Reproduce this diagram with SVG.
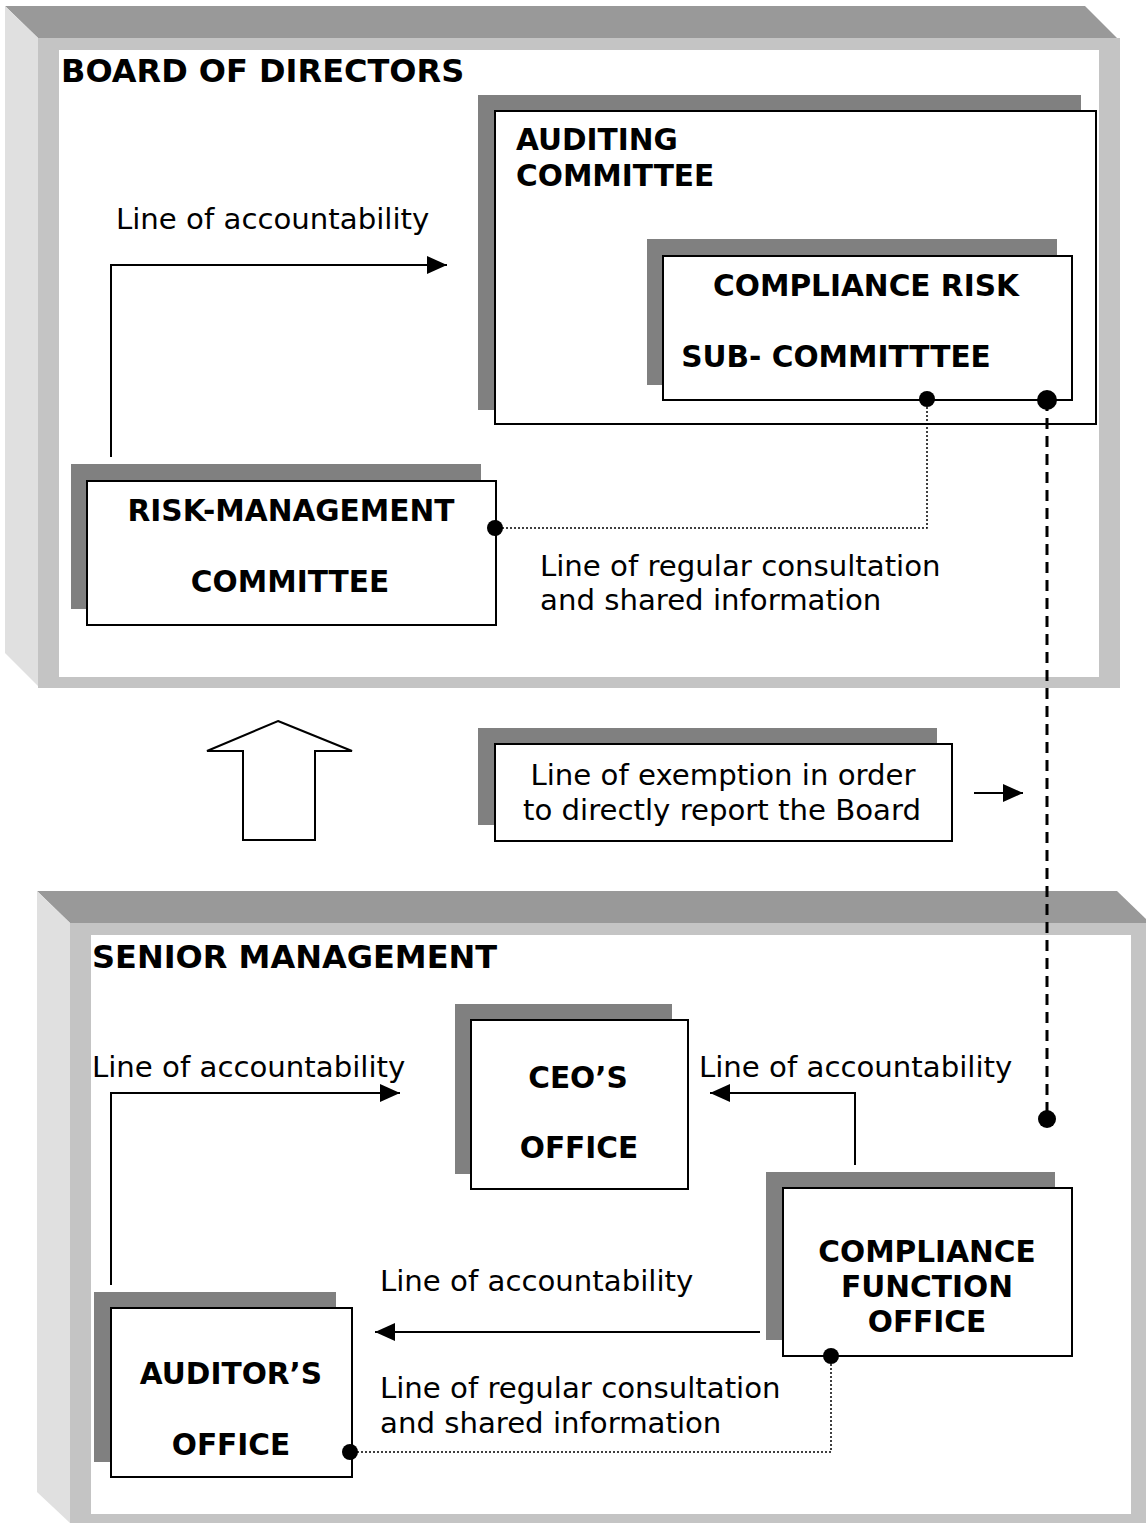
<svg xmlns="http://www.w3.org/2000/svg" width="1146" height="1523" viewBox="0 0 1146 1523">
<defs>
<style>
.bevtop{fill:#999999}
.bevleft{fill:#e0e0e0}
.frame{fill:#c4c4c4}
.inner{fill:#ffffff}
.shadow{fill:#808080}
.box{fill:#ffffff;stroke:#000000;stroke-width:2}
.title{font-family:"DejaVu Sans",Verdana,sans-serif;font-weight:bold;font-size:32px;fill:#000}
.lbl{font-family:"DejaVu Sans",Verdana,sans-serif;font-weight:bold;font-size:29.6px;fill:#000;text-anchor:middle}
.txt{font-family:"DejaVu Sans",Verdana,sans-serif;font-size:29.2px;fill:#000}
.mid{text-anchor:middle}
.line{fill:none;stroke:#000;stroke-width:2}
.dot{fill:none;stroke:#000;stroke-width:1.5;stroke-dasharray:2 2}
.dash{fill:none;stroke:#000;stroke-width:3;stroke-dasharray:11 7}
</style>
<marker id="ah" viewBox="0 0 20 18" refX="20" refY="9" markerWidth="20" markerHeight="18" markerUnits="userSpaceOnUse" orient="auto">
<path d="M0,0 L20,9 L0,18 z" fill="#000"/>
</marker>
</defs>
<rect width="1146" height="1523" fill="#ffffff"/>

<g id="board">
<rect class="frame" x="38" y="38" width="1082" height="650"/>
<polygon class="bevtop" points="5,6 1085,6 1117,38 38,38"/>
<polygon class="bevleft" points="5,6 38,38 38,686 5,653"/>
<rect class="inner" x="59" y="50" width="1040" height="627"/>
<text class="title" x="61" y="82">BOARD OF DIRECTORS</text>
</g>

<g id="senior">
<rect class="frame" x="70" y="923" width="1090" height="610"/>
<polygon class="bevtop" points="37,891 1117,891 1150,923 70,923"/>
<polygon class="bevleft" points="37,891 70,923 70,1523 37,1492"/>
<rect class="inner" x="91" y="935" width="1040" height="579"/>
<text class="title" x="92" y="968">SENIOR MANAGEMENT</text>
</g>

<g id="auditing">
<rect class="shadow" x="478" y="95" width="603" height="315"/>
<rect class="box" x="495" y="111" width="601" height="313"/>
<text class="lbl" x="516" y="150" style="text-anchor:start">AUDITING</text>
<text class="lbl" x="516" y="186" style="text-anchor:start">COMMITTEE</text>
</g>

<g id="compliance-risk">
<rect class="shadow" x="647" y="239" width="410" height="146"/>
<rect class="box" x="663" y="256" width="409" height="144"/>
<text class="lbl" x="866" y="296">COMPLIANCE RISK</text>
<text class="lbl" x="836" y="367">SUB- COMMITTTEE</text>
</g>

<g id="risk-management">
<rect class="shadow" x="71" y="464" width="410" height="145"/>
<rect class="box" x="87" y="481" width="409" height="144"/>
<text class="lbl" x="291" y="521">RISK-MANAGEMENT</text>
<text class="lbl" x="290" y="592">COMMITTEE</text>
</g>

<g id="up-arrow">
<polygon points="278,721 352,751 315,751 315,840 243,840 243,751 207,751" fill="#ffffff" stroke="#000" stroke-width="2"/>
</g>

<g id="exemption">
<rect class="shadow" x="478" y="728" width="459" height="97"/>
<rect class="box" x="495" y="744" width="457" height="97"/>
<text class="txt mid" x="723" y="785">Line of exemption in order</text>
<text class="txt mid" x="722" y="820">to directly report the Board</text>
</g>

<g id="ceo">
<rect class="shadow" x="455" y="1004" width="217" height="170"/>
<rect class="box" x="471" y="1020" width="217" height="169"/>
<text class="lbl" x="578" y="1088">CEO’S</text>
<text class="lbl" x="579" y="1158">OFFICE</text>
</g>

<g id="compliance-office">
<rect class="shadow" x="766" y="1172" width="289" height="168"/>
<rect class="box" x="783" y="1188" width="289" height="168"/>
<text class="lbl" x="927" y="1262">COMPLIANCE</text>
<text class="lbl" x="927" y="1297">FUNCTION</text>
<text class="lbl" x="927" y="1332">OFFICE</text>
</g>

<g id="auditor">
<rect class="shadow" x="94" y="1292" width="242" height="170"/>
<rect class="box" x="111" y="1308" width="241" height="169"/>
<text class="lbl" x="231" y="1384">AUDITOR’S</text>
<text class="lbl" x="231" y="1455">OFFICE</text>
</g>

<g id="connectors">
<polyline class="line" points="111,457 111,265 447,265" marker-end="url(#ah)"/>
<polyline class="dot" points="927,399 927,528 495,528"/>
<line class="dash" x1="1047" y1="400" x2="1047" y2="1119"/>
<line class="line" x1="974" y1="793" x2="1023" y2="793" marker-end="url(#ah)"/>
<polyline class="line" points="111,1285 111,1093 400,1093" marker-end="url(#ah)"/>
<polyline class="line" points="855,1165 855,1093 710,1093" marker-end="url(#ah)"/>
<line class="line" x1="760" y1="1332" x2="375" y2="1332" marker-end="url(#ah)"/>
<polyline class="dot" points="831,1356 831,1452 350,1452"/>
<circle cx="927" cy="399" r="8"/>
<circle cx="1047" cy="400" r="10"/>
<circle cx="495" cy="528" r="8"/>
<circle cx="1047" cy="1119" r="9"/>
<circle cx="831" cy="1356" r="8"/>
<circle cx="350" cy="1452" r="8"/>
</g>

<g id="labels">
<text class="txt" x="116" y="229">Line of accountability</text>
<text class="txt" x="540" y="576">Line of regular consultation</text>
<text class="txt" x="540" y="610">and shared information</text>
<text class="txt" x="92" y="1077">Line of accountability</text>
<text class="txt" x="699" y="1077">Line of accountability</text>
<text class="txt" x="380" y="1291">Line of accountability</text>
<text class="txt" x="380" y="1398">Line of regular consultation</text>
<text class="txt" x="380" y="1433">and shared information</text>
</g>
</svg>
